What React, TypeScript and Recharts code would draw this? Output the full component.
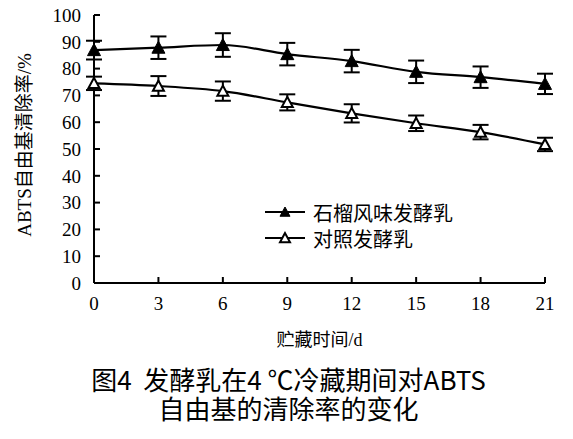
import React from 'react';
import { LineChart, Line, XAxis, YAxis, ErrorBar, Legend } from 'recharts';

const days = [0, 3, 6, 9, 12, 15, 18, 21];
const pomegranate = [86.9, 87.8, 88.8, 85.4, 82.8, 78.8, 76.8, 74.3];
const pomegranateErr = [3.5, 4.2, 4.4, 4.2, 4.2, 4.2, 4.0, 3.8];
const control = [74.5, 73.5, 71.6, 67.4, 63.3, 59.6, 56.3, 51.7];
const controlErr = [2.5, 3.7, 3.6, 3.0, 3.4, 2.9, 2.7, 2.5];
const yTicks = [0, 10, 20, 30, 40, 50, 60, 70, 80, 90, 100];
const xTicks = [0, 3, 6, 9, 12, 15, 18, 21];

const seriesNames = ['石榴风味发酵乳', '对照发酵乳'];
const xLabel = '贮藏时间/d';
const yLabel = 'ABTS自由基清除率/%';
const captionLines = ['图4  发酵乳在4 ℃冷藏期间对ABTS', '自由基的清除率的变化'];

const data = days.map((d, i) => ({
  day: d,
  a: pomegranate[i],
  aErr: pomegranateErr[i],
  b: control[i],
  bErr: controlErr[i],
}));

const serif = "'Liberation Serif', 'Noto Sans CJK SC', serif";

const Tri = (props: any) => {
  const { cx, cy, filled, s = 6 } = props;
  if (cx == null || cy == null) return null;
  const pts = `${cx},${cy - s} ${cx - s},${cy + s * 0.85} ${cx + s},${cy + s * 0.85}`;
  return (
    <polygon
      points={pts}
      fill={filled ? '#000' : '#fff'}
      stroke="#000"
      strokeWidth={filled ? 1 : 2}
    />
  );
};

const XLabel = (props: any) => {
  const vb = props.viewBox || {};
  return (
    <text x={vb.x + vb.width / 2} y={vb.y + 63} textAnchor="middle" fontFamily={serif} fontSize={18} fill="#000">
      {xLabel}
    </text>
  );
};

const YLabel = (props: any) => {
  const vb = props.viewBox || {};
  const x = vb.x + 31;
  const y = vb.y + vb.height / 2 - 4;
  return (
    <text x={x} y={y} transform={`rotate(-90 ${x} ${y})`} textAnchor="middle" fontFamily={serif} fontSize={19} fill="#000">
      {yLabel}
    </text>
  );
};

const LegendContent = () => (
  <div style={{ fontFamily: serif, fontSize: 20, color: '#000' }}>
    {seriesNames.map((n, i) => (
      <div key={n} style={{ display: 'flex', alignItems: 'center', height: 26 }}>
        <svg width={44} height={20} style={{ marginRight: 6 }}>
          <line x1={2} y1={10} x2={42} y2={10} stroke="#000" strokeWidth={2.2} />
          <Tri cx={22} cy={10} filled={i === 0} s={5} />
        </svg>
        <span>{n}</span>
      </div>
    ))}
  </div>
);

export default function App() {
  return (
    <div style={{ position: 'absolute', left: 0, top: 0, width: 573, height: 439, background: '#fff' }}>
      <LineChart width={573} height={370} data={data} margin={{ top: 15, right: 28, bottom: 27, left: 0 }}>
        <XAxis
          dataKey="day"
          type="number"
          domain={[0, 21]}
          ticks={xTicks}
          interval={0}
          height={60}
          tickSize={-6}
          tickMargin={20}
          axisLine={{ stroke: '#000', strokeWidth: 2 }}
          tickLine={{ stroke: '#000', strokeWidth: 2 }}
          tick={{ fill: '#000', fontFamily: serif, fontSize: 19 }}
          label={<XLabel />}
        />
        <YAxis
          type="number"
          domain={[0, 100]}
          ticks={yTicks}
          interval={0}
          width={94}
          tickSize={-6}
          tickMargin={19}
          axisLine={{ stroke: '#000', strokeWidth: 2 }}
          tickLine={{ stroke: '#000', strokeWidth: 2 }}
          tick={{ fill: '#000', fontFamily: serif, fontSize: 19 }}
          label={<YLabel />}
        />
        <Legend
          layout="vertical"
          align="center"
          verticalAlign="middle"
          content={<LegendContent />}
          wrapperStyle={{ position: 'absolute', left: 263, top: 199, width: 240, height: 52 }}
        />
        <Line
          type="monotone"
          dataKey="a"
          name={seriesNames[0]}
          stroke="#000"
          strokeWidth={2.2}
          isAnimationActive={false}
          dot={(p: any) => <Tri key={`a${p.index}`} cx={p.cx} cy={p.cy} filled s={6.5} />}
        >
          <ErrorBar dataKey="aErr" width={8} stroke="#000" strokeWidth={2} isAnimationActive={false} />
        </Line>
        <Line
          type="monotone"
          dataKey="b"
          name={seriesNames[1]}
          stroke="#000"
          strokeWidth={2.2}
          isAnimationActive={false}
          dot={(p: any) => <Tri key={`b${p.index}`} cx={p.cx} cy={p.cy} filled={false} s={5.5} />}
        >
          <ErrorBar dataKey="bErr" width={8} stroke="#000" strokeWidth={2} isAnimationActive={false} />
        </Line>
      </LineChart>
      <div
        style={{
          position: 'absolute',
          left: 0,
          top: 364,
          width: 577,
          textAlign: 'center',
          fontFamily: "'Noto Sans CJK SC', sans-serif",
          fontSize: 26,
          lineHeight: '29px',
          color: '#000',
          whiteSpace: 'pre',
        }}
      >
        {captionLines.map((l) => (
          <div key={l}>{l}</div>
        ))}
      </div>
    </div>
  );
}
